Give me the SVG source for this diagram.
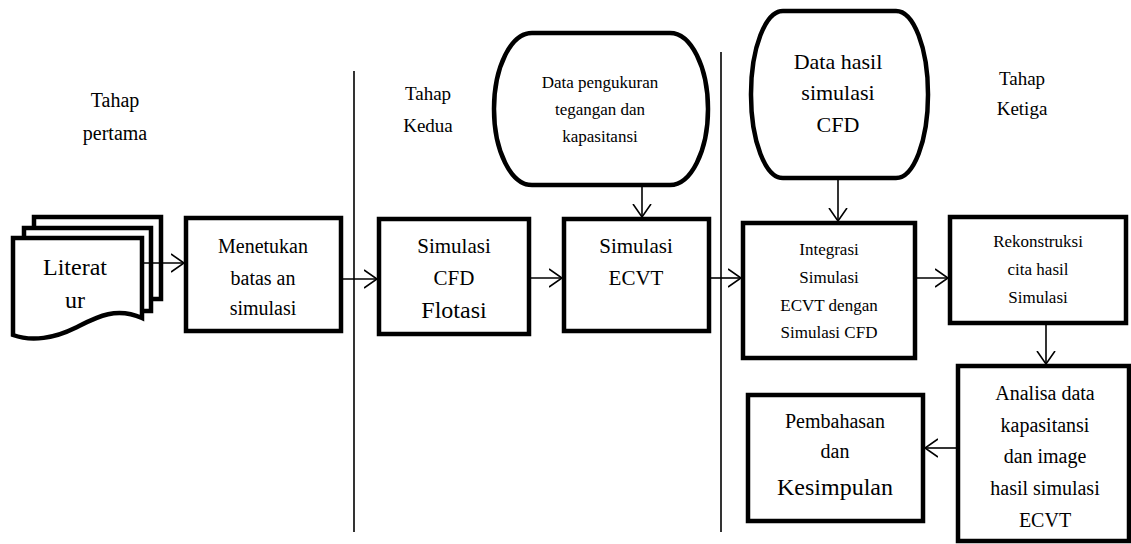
<svg xmlns="http://www.w3.org/2000/svg" width="1131" height="544" viewBox="0 0 1131 544">
<defs>
<style>
.box{fill:#fff;stroke:#000;stroke-width:4.5}
.t{fill:#000;text-anchor:middle}
.c{stroke:#000;stroke-width:1.6;fill:none}
.div{stroke:#000;stroke-width:1.6}
</style>
<marker id="ah" viewBox="0 0 14 20" refX="13" refY="10" markerWidth="14" markerHeight="20" markerUnits="userSpaceOnUse" orient="auto">
<path d="M0,1 L13,10 L0,19" fill="none" stroke="#000" stroke-width="1.6"/>
</marker>
</defs>
<rect width="1131" height="544" fill="#fff"/>

<g id="dividers">
<line class="div" x1="354" y1="71" x2="354" y2="532"/>
<line class="div" x1="721" y1="52" x2="721" y2="532"/>
</g>

<g font-family="Tinos, 'Liberation Serif', 'Noto Serif', 'DejaVu Serif', Georgia, serif">
<g id="label-pertama">
<text class="t" x="115" y="107" font-size="20">Tahap</text>
<text class="t" x="115" y="140" font-size="20">pertama</text>
</g>
<g id="label-kedua">
<text class="t" x="428" y="100" font-size="19">Tahap</text>
<text class="t" x="428" y="132" font-size="19">Kedua</text>
</g>
<g id="label-ketiga">
<text class="t" x="1022" y="85" font-size="19">Tahap</text>
<text class="t" x="1022" y="115" font-size="19">Ketiga</text>
</g>

<g id="literatur">
<path class="box" d="M34,217 H161 V299 H34 Z"/>
<path class="box" d="M24,228 H151 V311 H24 Z"/>
<path class="box" d="M13,238 H142 V318 C115,306 95,318 75,328 C55,338 32,342 13,335 Z"/>
<text class="t" x="75" y="275" font-size="24">Literat</text>
<text class="t" x="75" y="308" font-size="24">ur</text>
</g>

<g id="menetukan">
<rect class="box" x="186" y="218" width="155" height="113"/>
<text class="t" x="263" y="253" font-size="20">Menetukan</text>
<text class="t" x="263" y="285" font-size="20">batas an</text>
<text class="t" x="263" y="315" font-size="20">simulasi</text>
</g>

<g id="simulasi-cfd">
<rect class="box" x="379" y="219" width="150" height="115"/>
<text class="t" x="454" y="253" font-size="21">Simulasi</text>
<text class="t" x="454" y="285" font-size="21">CFD</text>
<text class="t" x="454" y="318" font-size="24">Flotasi</text>
</g>

<g id="data-pengukuran">
<rect class="box" x="494" y="33" width="214" height="152" rx="38" ry="76"/>
<text class="t" x="600" y="88" font-size="17">Data pengukuran</text>
<text class="t" x="600" y="115" font-size="17">tegangan dan</text>
<text class="t" x="600" y="142" font-size="17">kapasitansi</text>
</g>

<g id="simulasi-ecvt">
<rect class="box" x="564" y="219" width="145" height="112"/>
<text class="t" x="636" y="253" font-size="21">Simulasi</text>
<text class="t" x="636" y="285" font-size="21">ECVT</text>
</g>

<g id="data-hasil">
<rect class="box" x="751" y="11" width="177" height="167" rx="32" ry="83"/>
<text class="t" x="838" y="69" font-size="22">Data hasil</text>
<text class="t" x="838" y="100" font-size="22">simulasi</text>
<text class="t" x="838" y="132" font-size="22">CFD</text>
</g>

<g id="integrasi">
<rect class="box" x="743" y="223" width="172" height="135"/>
<text class="t" x="829" y="255" font-size="17">Integrasi</text>
<text class="t" x="829" y="283" font-size="17">Simulasi</text>
<text class="t" x="829" y="311" font-size="17">ECVT dengan</text>
<text class="t" x="829" y="338" font-size="17">Simulasi CFD</text>
</g>

<g id="rekonstruksi">
<rect class="box" x="950" y="217" width="176" height="106"/>
<text class="t" x="1038" y="247" font-size="17">Rekonstruksi</text>
<text class="t" x="1038" y="275" font-size="17">cita hasil</text>
<text class="t" x="1038" y="303" font-size="17">Simulasi</text>
</g>

<g id="analisa">
<rect class="box" x="958" y="366" width="171" height="175"/>
<text class="t" x="1045" y="400" font-size="20">Analisa data</text>
<text class="t" x="1045" y="432" font-size="20">kapasitansi</text>
<text class="t" x="1045" y="463" font-size="20">dan image</text>
<text class="t" x="1045" y="495" font-size="20">hasil simulasi</text>
<text class="t" x="1045" y="527" font-size="20">ECVT</text>
</g>

<g id="pembahasan">
<rect class="box" x="748" y="395" width="175" height="126"/>
<text class="t" x="835" y="428" font-size="20">Pembahasan</text>
<text class="t" x="835" y="458" font-size="20">dan</text>
<text class="t" x="835" y="495" font-size="24">Kesimpulan</text>
</g>
</g>

<g id="connectors">
<line class="c" x1="144" y1="263" x2="184" y2="263" marker-end="url(#ah)"/>
<line class="c" x1="341" y1="279" x2="377" y2="279" marker-end="url(#ah)"/>
<line class="c" x1="529" y1="278" x2="562" y2="278" marker-end="url(#ah)"/>
<line class="c" x1="642" y1="186" x2="642" y2="217" marker-end="url(#ah)"/>
<line class="c" x1="709" y1="278" x2="741" y2="278" marker-end="url(#ah)"/>
<line class="c" x1="838" y1="179" x2="838" y2="221" marker-end="url(#ah)"/>
<line class="c" x1="915" y1="278" x2="948" y2="278" marker-end="url(#ah)"/>
<line class="c" x1="1046" y1="323" x2="1046" y2="364" marker-end="url(#ah)"/>
<line class="c" x1="956" y1="448" x2="925" y2="448" marker-end="url(#ah)"/>
</g>
</svg>
